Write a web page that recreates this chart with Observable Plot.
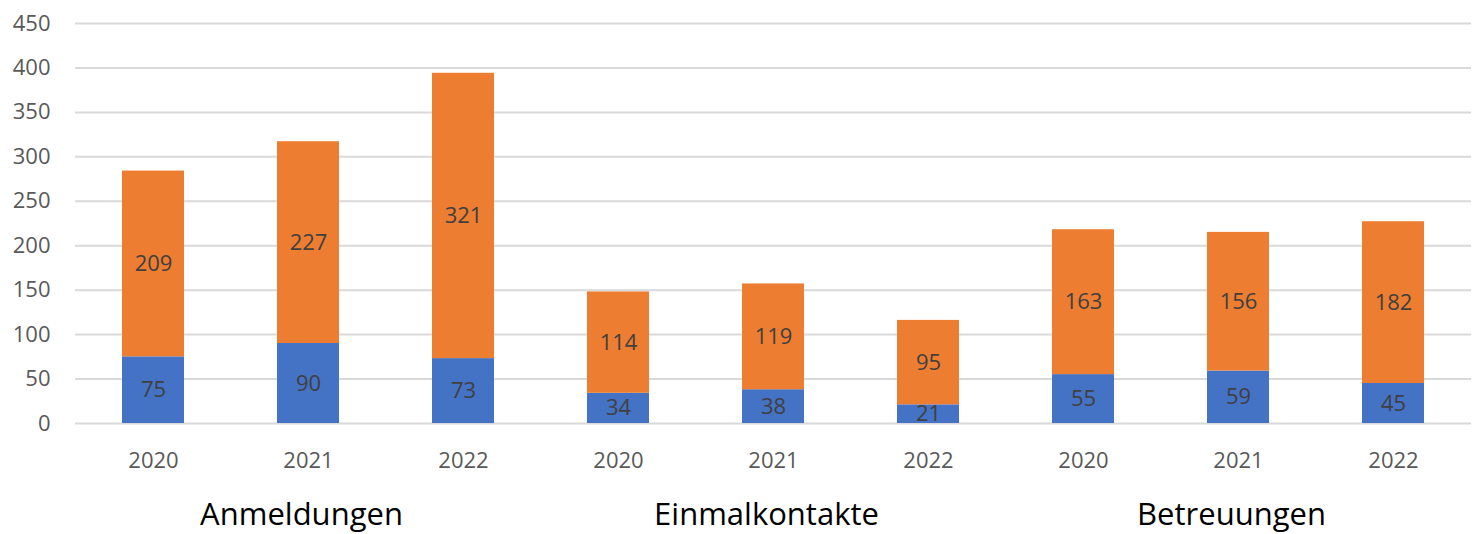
<!DOCTYPE html>
<html><head><meta charset="utf-8">
<script src="https://cdn.jsdelivr.net/npm/d3@7"></script>
<script src="https://cdn.jsdelivr.net/npm/@observablehq/plot@0.6"></script>
<style>
html,body{margin:0;padding:0;background:#fff;}
</style>
</head><body>
<div id="chart"></div>
<script>
const groups = ["Anmeldungen", "Einmalkontakte", "Betreuungen"];
const years = ["2020", "2021", "2022"];
const blueValues = [75, 90, 73, 34, 38, 21, 55, 59, 45];
const orangeValues = [209, 227, 321, 114, 119, 95, 163, 156, 182];
const yTicks = [0, 50, 100, 150, 200, 250, 300, 350, 400, 450];

const keys = [];
groups.forEach(g => years.forEach(y => keys.push(g + "|" + y)));
const rows = [];
keys.forEach((k, i) => rows.push({key: k, series: "s1", value: blueValues[i]}));
keys.forEach((k, i) => rows.push({key: k, series: "s2", value: orangeValues[i]}));

const font = "'Open Sans', sans-serif";
const chart = Plot.plot({
  width: 1480,
  height: 534,
  marginLeft: 75,
  marginRight: 9,
  marginTop: 23,
  marginBottom: 111,
  style: {fontFamily: font, fontSize: "22px", background: "#fff"},
  x: {domain: keys, paddingInner: 0.6, paddingOuter: 0.3, label: null},
  y: {domain: [0, 450], label: null},
  color: {domain: ["s1", "s2"], range: ["#4472C4", "#ED7D31"]},
  marks: [
    Plot.gridY(yTicks, {stroke: "#d9d9d9", strokeOpacity: 1, strokeWidth: 2}),
    Plot.axisY(yTicks, {tickSize: 0, tickPadding: 25, fill: "#595959", fontSize: 22, letterSpacing: 1.5, label: null}),
    Plot.axisX({tickSize: 0, tickPadding: 29, fill: "#595959", fontSize: 22, letterSpacing: 2, tickFormat: d => d.split("|")[1], label: null}),
    Plot.barY(rows, {x: "key", y: "value", fill: "series", order: null}),
    Plot.text(rows, Plot.stackY({x: "key", y: "value", z: "series", text: "value", order: null, fill: "#404040", fontSize: 22, letterSpacing: 2})),
    Plot.text(groups, {x: g => g + "|2021", y: () => 0, text: d => d, dy: 92, dx: -7, fill: "#000", fontSize: 31, letterSpacing: 2.5})
  ]
});
document.getElementById("chart").appendChild(chart);
</script>
</body></html>
